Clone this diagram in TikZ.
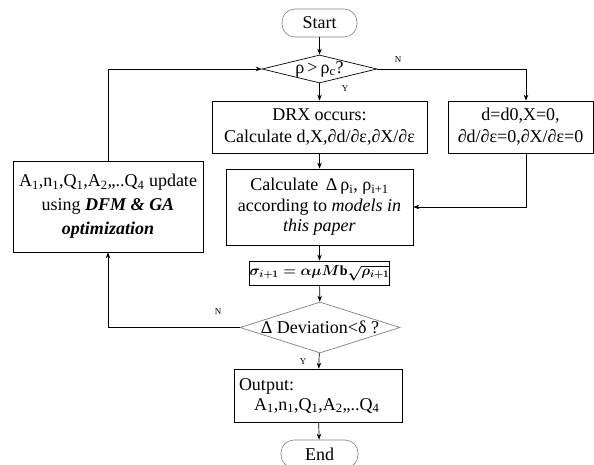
\documentclass[tikz,border=0pt]{standalone}
\usepackage{amsmath}
\usepackage{fontspec}
\setmainfont{Liberation Serif}
\usetikzlibrary{shapes.geometric,arrows.meta}
\newsavebox{\sigbox}
\begin{document}
\begin{tikzpicture}[x=1pt,y=-1pt,
  every node/.style={font=\fontsize{18}{22}\selectfont, inner sep=0pt, align=center},
  box/.style={draw=black, line width=0.7pt, rectangle},
  term/.style={draw=gray, line width=0.6pt, rounded corners=13pt},
  decide/.style={draw, diamond, line width=0.7pt},
  arr/.style={line width=0.7pt, -{Stealth[length=6pt,width=4.5pt]}},
  ln/.style={line width=0.7pt},
  lab/.style={font=\fontsize{9}{10}\selectfont}]
\useasboundingbox (0,0) rectangle (594,465);
\sbox{\sigbox}{\fontsize{14}{17}\selectfont\boldmath$\sigma_{i+1}=\alpha\mu M\mathrm{b}\sqrt{\rho_{i+1}}$}
\node[term, minimum width=75pt, minimum height=28pt] (start) at (319.5,23) {Start};
\node[decide, minimum width=115pt, minimum height=28pt] (d1) at (319.5,69) {};
\node (d1t) at (319.5,69) {ρ\,>\,ρ\textsubscript{c}?};
\node[box, minimum width=215pt, minimum height=52pt] (drx) at (319.5,127) {DRX occurs:\\Calculate d,X,∂d/∂ε,∂X/∂ε};
\node[box, minimum width=145pt, minimum height=52pt] (rbox) at (520.5,127) {d=d0,X=0,\\∂d/∂ε=0,∂X/∂ε=0};
\node[box, minimum width=187pt, minimum height=76pt, font=\fontsize{18}{20.5}\selectfont] (calc) at (319.5,207) {Calculate \,Δ\,ρ\textsubscript{i}, ρ\textsubscript{i+1}\\according to \textit{models in}\\\textit{this paper}};
\node[box, minimum width=135pt, minimum height=24pt] (sig) at (319.5,273) {\usebox{\sigbox}};
\node[decide, draw=gray, minimum width=160pt, minimum height=51pt] (d2) at (320,327.5) {};
\node (d2t) at (320,327.5) {Δ Deviation<δ ?};
\node[box, minimum width=190pt, minimum height=91pt, font=\fontsize{18}{24}\selectfont] (left) at (108,206.5) {A\textsubscript{1},n\textsubscript{1},Q\textsubscript{1},A\textsubscript{2},,..Q\textsubscript{4} update\\using \textbf{\textit{DFM \& GA}}\\\textbf{\textit{optimization}}};
\node[box, minimum width=168pt, minimum height=53pt, text width=158pt, align=left, font=\fontsize{18}{20}\selectfont] (out) at (318,395.5) {Output:\\\hspace*{15pt}A\textsubscript{1},n\textsubscript{1},Q\textsubscript{1},A\textsubscript{2},,..Q\textsubscript{4}};
\node[term, minimum width=77pt, minimum height=28pt] (end) at (319.5,454) {End};
\coordinate (rj) at (526,69);
\draw[arr] (start) -- (d1);
\draw[arr] (d1) -- (drx);
\draw[ln] (d1.east) -- (rj);
\draw[arr] (rj) -- (rj |- rbox.north);
\draw[arr] (rj |- rbox.south) |- (calc.east);
\draw[arr] (drx) -- (calc);
\draw[arr] (calc) -- (sig);
\draw[arr] (sig) -- (d2);
\draw[arr] (d2) -- (out);
\draw[arr] (out) -- (end);
\draw[arr] (d2.west) -| (left.south);
\draw[arr] (left.north) |- (d1.west);
\node[lab] (n1) at (398,60) {N};
\node[lab] (y1) at (345,89) {Y};
\node[lab] (n2) at (218,312) {N};
\node[lab] (y2) at (303,362) {Y};
\end{tikzpicture}
\end{document}
